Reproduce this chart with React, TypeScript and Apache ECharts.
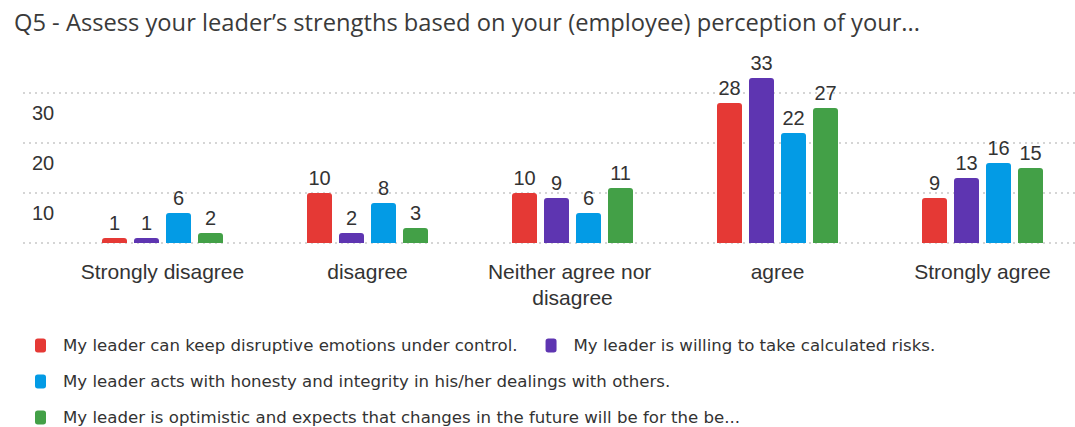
import React, { useEffect, useRef } from "react";
import * as echarts from "echarts";

const title = "Q5 - Assess your leader\u2019s strengths based on your (employee) perception of your...";
const categories = ["Strongly disagree", "disagree", "Neither agree nor disagree", "agree", "Strongly agree"];
const seriesNames = [
  "My leader can keep disruptive emotions under control.",
  "My leader is willing to take calculated risks.",
  "My leader acts with honesty and integrity in his/her dealings with others.",
  "My leader is optimistic and expects that changes in the future will be for the be...",
];
const emotionsControl = [1, 10, 10, 28, 9];
const calculatedRisks = [1, 2, 9, 33, 13];
const honestyIntegrity = [6, 8, 6, 22, 16];
const optimistic = [2, 3, 11, 27, 15];
const seriesValues = [emotionsControl, calculatedRisks, honestyIntegrity, optimistic];
const colors = ["#e53935", "#5e35b1", "#039be5", "#43a047"];
const yTicks = [0, 10, 20, 30];

export default function App() {
  const ref = useRef<HTMLDivElement>(null);
  useEffect(() => {
    if (!ref.current) return;
    const chart = echarts.init(ref.current, null, { renderer: "svg" });
    const labelFont = "'Liberation Sans', Arial, sans-serif";
    chart.setOption({
      animation: false,
      color: colors,
      title: {
        text: title,
        left: 9,
        top: 5,
        textStyle: { fontFamily: "'Open Sans', sans-serif", fontSize: 23.7, fontWeight: "normal", color: "#3a3a3a" },
      },
      legend: {
        left: 35,
        top: 337,
        width: 1010,
        padding: 0,
        itemWidth: 11,
        itemHeight: 14,
        itemGap: 19,
        icon: "roundRect",
        data: seriesNames,
        textStyle: {
          fontFamily: "'DejaVu Sans', sans-serif",
          fontSize: 16.6,
          lineHeight: 15,
          color: "#333",
          padding: [0, 9, 0, 12],
        },
      },
      grid: [
        { left: 23, right: 0, top: 93, bottom: 184, outerBoundsMode: "none" },
        { left: 60, width: 1025, top: 68, bottom: 184, outerBoundsMode: "none" },
      ],
      xAxis: [
        { gridIndex: 0, type: "value", min: 0, max: 1, show: false },
        {
          gridIndex: 1,
          type: "category",
          data: categories,
          axisLine: { show: false },
          axisTick: { show: false },
          axisLabel: {
            fontFamily: labelFont,
            fontSize: 21,
            lineHeight: 26,
            color: "#333",
            margin: 15,
            width: 190,
            overflow: "break",
            interval: 0,
          },
        },
      ],
      yAxis: [
        {
          gridIndex: 0,
          type: "value",
          min: yTicks[0],
          max: yTicks[yTicks.length - 1],
          interval: 10,
          axisLine: { show: false },
          axisTick: { show: false },
          splitLine: { lineStyle: { type: [2, 4], color: "#c8c8c8", width: 1.5 } },
          axisLabel: {
            inside: true,
            margin: 9,
            fontFamily: labelFont,
            fontSize: 20,
            color: "#333",
            verticalAlign: "top",
            padding: [10, 0, 0, 0],
            formatter: (v: number) => (v === 0 ? "" : String(v)),
          },
        },
        {
          gridIndex: 1,
          type: "value",
          min: 0,
          max: 35,
          show: false,
          splitLine: { show: false },
        },
      ],
      series: seriesNames.map((name, i) => ({
        name,
        type: "bar",
        xAxisIndex: 1,
        yAxisIndex: 1,
        data: seriesValues[i],
        barWidth: 25,
        barGap: "28%",
        itemStyle: { color: colors[i], borderRadius: [3, 3, 0, 0] },
        label: {
          show: true,
          position: "top",
          distance: 5,
          fontFamily: labelFont,
          fontSize: 20,
          color: "#333",
        },
      })),
    });
    return () => chart.dispose();
  }, []);
  return (
    <div
      ref={ref}
      style={{ position: "fixed", left: 0, top: 0, width: 1075, height: 427, background: "#fff" }}
    />
  );
}
